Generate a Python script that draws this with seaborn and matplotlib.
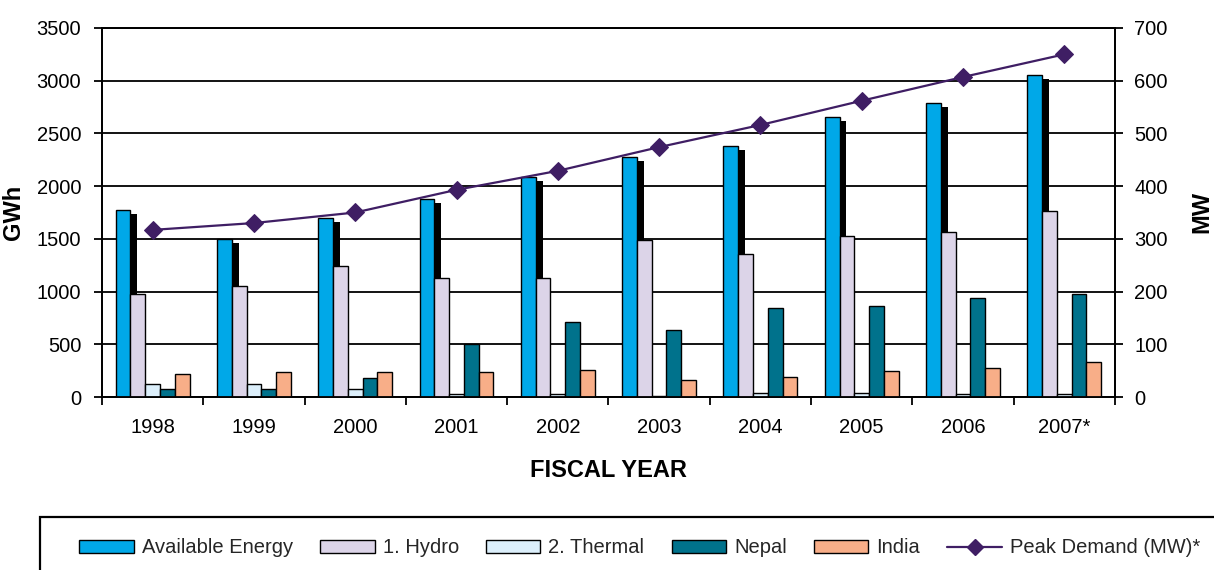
import numpy as np
import pandas as pd
import matplotlib
matplotlib.use("Agg")
import matplotlib.pyplot as plt
from matplotlib import patheffects as pe
from matplotlib.patches import Rectangle, Patch
from matplotlib.lines import Line2D
import seaborn as sns

# Energy balance by fiscal year (GWh) and system peak demand (MW)
years = ["1998", "1999", "2000", "2001", "2002", "2003", "2004", "2005", "2006", "2007*"]
available_energy = [1777, 1496, 1701, 1875, 2087, 2277, 2381, 2657, 2786, 3055]
hydro = [974, 1053, 1246, 1129, 1129, 1490, 1357, 1527, 1568, 1762]
thermal = [123, 123, 79, 31, 31, 5, 35, 35, 26, 26]
nepal = [79, 79, 177, 503, 709, 633, 847, 860, 936, 977]
india = [218, 234, 234, 234, 253, 158, 193, 250, 272, 329]
peak_demand = [317, 330, 350, 393, 429, 474, 516, 562, 607, 650]

series_names = ["Available Energy", "1. Hydro", "2. Thermal", "Nepal", "India"]
series_colors = ["#00A8E8", "#DCD4E8", "#DCEFFB", "#00728C", "#F8AE88"]
line_color = "#3F1E64"

sns.set_theme(style="ticks")
plt.rcParams["font.family"] = ["Liberation Sans", "DejaVu Sans"]

df = pd.DataFrame({
    "year": years,
    series_names[0]: available_energy,
    series_names[1]: hydro,
    series_names[2]: thermal,
    series_names[3]: nepal,
    series_names[4]: india,
}).melt(id_vars="year", var_name="series", value_name="GWh")

fig = plt.figure(figsize=(12.14, 5.70), dpi=100)
ax = fig.add_axes([0.0840, 0.3035, 0.8344, 0.6474])

sns.barplot(data=df, x="year", y="GWh", hue="series", hue_order=series_names,
            palette=series_colors, width=0.73, gap=0, dodge=True,
            edgecolor="black", linewidth=1.0, saturation=1, ax=ax,
            legend=False, zorder=3)

# drop shadow behind the total-energy bars
for bar in ax.containers[0]:
    bar.set_path_effects([pe.SimplePatchShadow(offset=(5.0, -2.9), shadow_rgbFace="black", alpha=1.0),
                          pe.Normal()])

tick_fs = 14.5
ax.set_xlim(-0.5, len(years) - 0.5)
ax.set_ylim(0, 3500)
ax.set_yticks(np.arange(0, 3501, 500))
ax.yaxis.grid(True, color="black", linewidth=1.3)
ax.set_xticks(np.arange(-0.5, len(years), 1), minor=True)
ax.tick_params(axis="x", which="major", length=0, pad=15, labelsize=tick_fs, colors="black")
ax.tick_params(axis="x", which="minor", length=6, width=1.3, color="black", direction="out")
ax.tick_params(axis="y", which="major", length=6, width=1.3, pad=9, labelsize=tick_fs,
               colors="black", direction="out")
ax.set_xlabel("FISCAL YEAR", fontsize=17, fontweight="bold", labelpad=16, color="black")
ax.set_ylabel("GWh", fontsize=17, fontweight="bold", labelpad=8, color="black")

ax2 = ax.twinx()
sns.lineplot(x=np.arange(len(years)), y=peak_demand, ax=ax2, color=line_color,
             marker="D", markersize=9, markeredgecolor=line_color, linewidth=1.6,
             zorder=5)
ax2.set_ylim(0, 700)
ax2.set_yticks(np.arange(0, 701, 100))
ax2.tick_params(axis="y", length=6, width=1.3, pad=8, labelsize=tick_fs, colors="black",
                direction="out")
ax2.set_ylabel("MW", fontsize=17, fontweight="bold", labelpad=16, color="black")

for a in (ax, ax2):
    for s in a.spines.values():
        s.set_visible(True)
        s.set_color("black")
        s.set_linewidth(1.3)

# legend panel along the bottom
fig.patches.append(Rectangle((0.033, -0.2), 1.2, 0.2 + 0.0930, transform=fig.transFigure,
                             facecolor="white", edgecolor="black", linewidth=1.6,
                             clip_on=False))
handles = [Patch(facecolor=c, edgecolor="black", linewidth=1.0, label=n)
           for n, c in zip(series_names, series_colors)]
handles.append(Line2D([], [], color=line_color, marker="D", markersize=8, linewidth=1.6,
                      label="Peak Demand (MW)*"))
fig.legend(handles=handles, loc="center", bbox_to_anchor=(0.527, 0.0386), ncol=6,
           frameon=False, fontsize=tick_fs, handlelength=2.7, handleheight=0.6,
           handletextpad=0.4, columnspacing=1.35)

fig.savefig("out.png", dpi=100)
